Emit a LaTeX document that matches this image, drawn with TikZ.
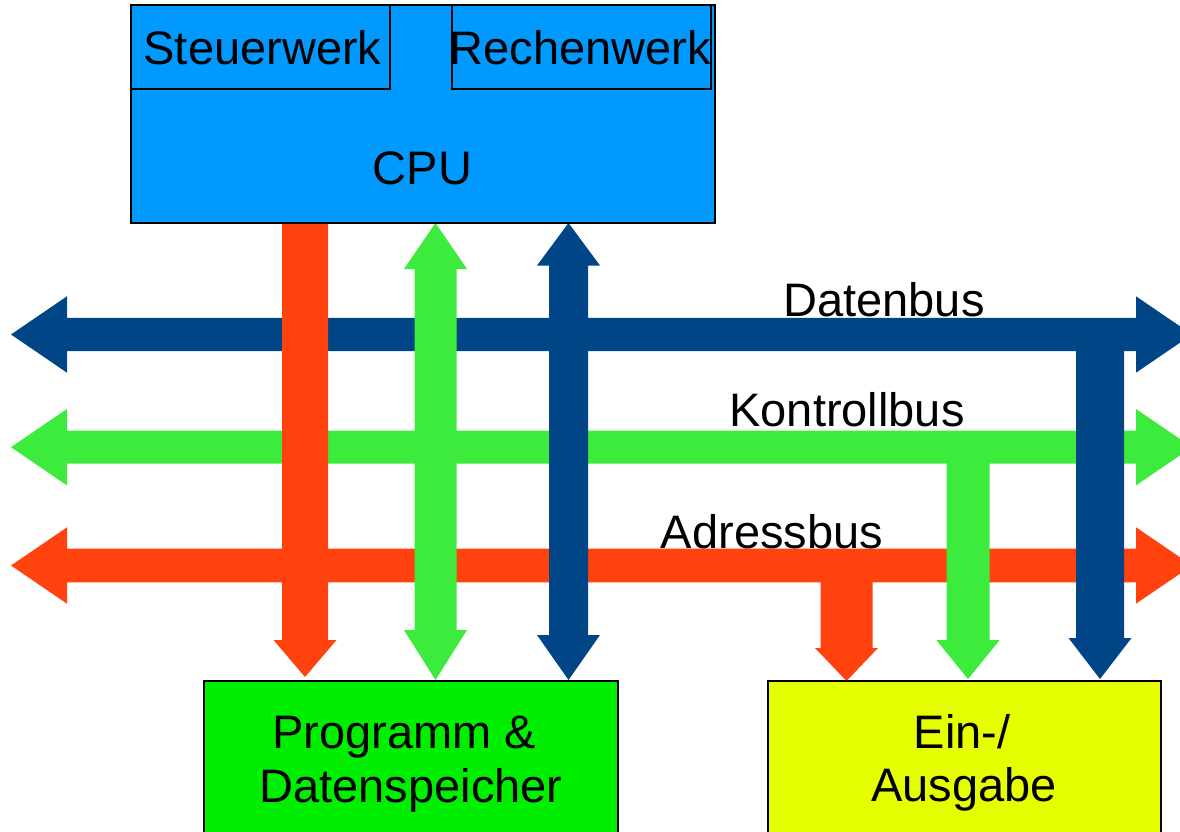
\documentclass[tikz,border=0pt]{standalone}
\usepackage{fontspec}
\setmainfont{Liberation Sans}
\definecolor{cpublue}{HTML}{0099FF}
\definecolor{busblue}{HTML}{004586}
\definecolor{busgreen}{HTML}{3DEB3D}
\definecolor{busred}{HTML}{FF420E}
\definecolor{memgreen}{HTML}{00EE00}
\definecolor{ioyellow}{HTML}{E6FF00}
% vertical arrow pointing down: x, ytop, ytip, half shaft, half head, head length, colour
\newcommand\VDownArrow[7]{%
  \fill[#7] (#1-#4,#2) -- (#1+#4,#2) -- (#1+#4,#3-#6) -- (#1+#5,#3-#6) -- (#1,#3)
    -- (#1-#5,#3-#6) -- (#1-#4,#3-#6) -- cycle;}
% vertical double arrow: x, ytop tip, ybottom tip, half shaft, half head, top head length, bottom head length, colour
\newcommand\VDoubleArrow[8]{%
  \fill[#8] (#1,#2) -- (#1+#5,#2+#6) -- (#1+#4,#2+#6) -- (#1+#4,#3-#7) -- (#1+#5,#3-#7)
    -- (#1,#3) -- (#1-#5,#3-#7) -- (#1-#4,#3-#7) -- (#1-#4,#2+#6) -- (#1-#5,#2+#6) -- cycle;}
% horizontal double arrow: y, xleft tip, xright tip, half shaft, half head, head length, colour
\newcommand\HDoubleArrow[7]{%
  \fill[#7] (#2,#1) -- (#2+#6,#1-#5) -- (#2+#6,#1-#4) -- (#3-#6,#1-#4) -- (#3-#6,#1-#5)
    -- (#3,#1) -- (#3-#6,#1+#5) -- (#3-#6,#1+#4) -- (#2+#6,#1+#4) -- (#2+#6,#1+#5) -- cycle;}
\begin{document}
\begin{tikzpicture}[x=1pt,y=-1pt,
  box/.style={draw=black,line width=1.3pt,rectangle,inner sep=0pt},
  txt/.style={font=\fontsize{47}{56}\selectfont,inner sep=0pt,anchor=base,text=black}]
\useasboundingbox (0,0) rectangle (1180,832);
% buses
\HDoubleArrow{334.5}{11}{1192}{16.7}{38.2}{56}{busblue}
\HDoubleArrow{447.2}{11}{1192}{16.5}{38.2}{56}{busgreen}
\HDoubleArrow{565.5}{11}{1192}{16.8}{38.2}{56}{busred}
% connections CPU <-> Programm & Datenspeicher
\VDownArrow{305}{223}{677}{23}{31.5}{37}{busred}
\VDoubleArrow{435.5}{223}{680}{21}{31.5}{46}{50}{busgreen}
\VDoubleArrow{568.5}{223}{680}{19.5}{31.5}{42.5}{45}{busblue}
% connections buses -> Ein-/Ausgabe
\VDownArrow{846.5}{566}{681}{26}{31.5}{33}{busred}
\VDownArrow{968}{447}{679}{21.5}{31.7}{39}{busgreen}
\VDownArrow{1100}{335}{679}{24}{31.5}{41}{busblue}
% CPU
\node[box,fill=cpublue,minimum width=584,minimum height=218] (cpu) at (423,114) {};
\node[box,minimum width=259,minimum height=84] (steuer) at (260.5,47) {};
\node[box,minimum width=259,minimum height=84] (rechen) at (581.5,47) {};
\node[txt] (steuertxt) at (262.5,65) {Steuerwerk};
\node[txt] (rechentxt) at (580.5,64.3) {Rechenwerk};
\node[txt] (cputxt) at (422.5,184.3) {CPU};
% memory and I/O
\node[box,fill=memgreen,minimum width=414,minimum height=159] (mem) at (411,760.5) {};
\node[box,fill=ioyellow,minimum width=393,minimum height=159] (io) at (964.5,760.5) {};
\node[txt] (memtxta) at (404,748) {Programm \&};
\node[txt] (memtxtb) at (411,802.7) {Datenspeicher};
\node[txt] (iotxta) at (962.3,748) {Ein-/};
\node[txt] (iotxtb) at (964.2,801.7) {Ausgabe};
% bus labels
\node[txt] (dbus) at (884,316.7) {Datenbus};
\node[txt] (kbus) at (847,426.7) {Kontrollbus};
\node[txt] (abus) at (772,548) {Adressbus};
\end{tikzpicture}
\end{document}
